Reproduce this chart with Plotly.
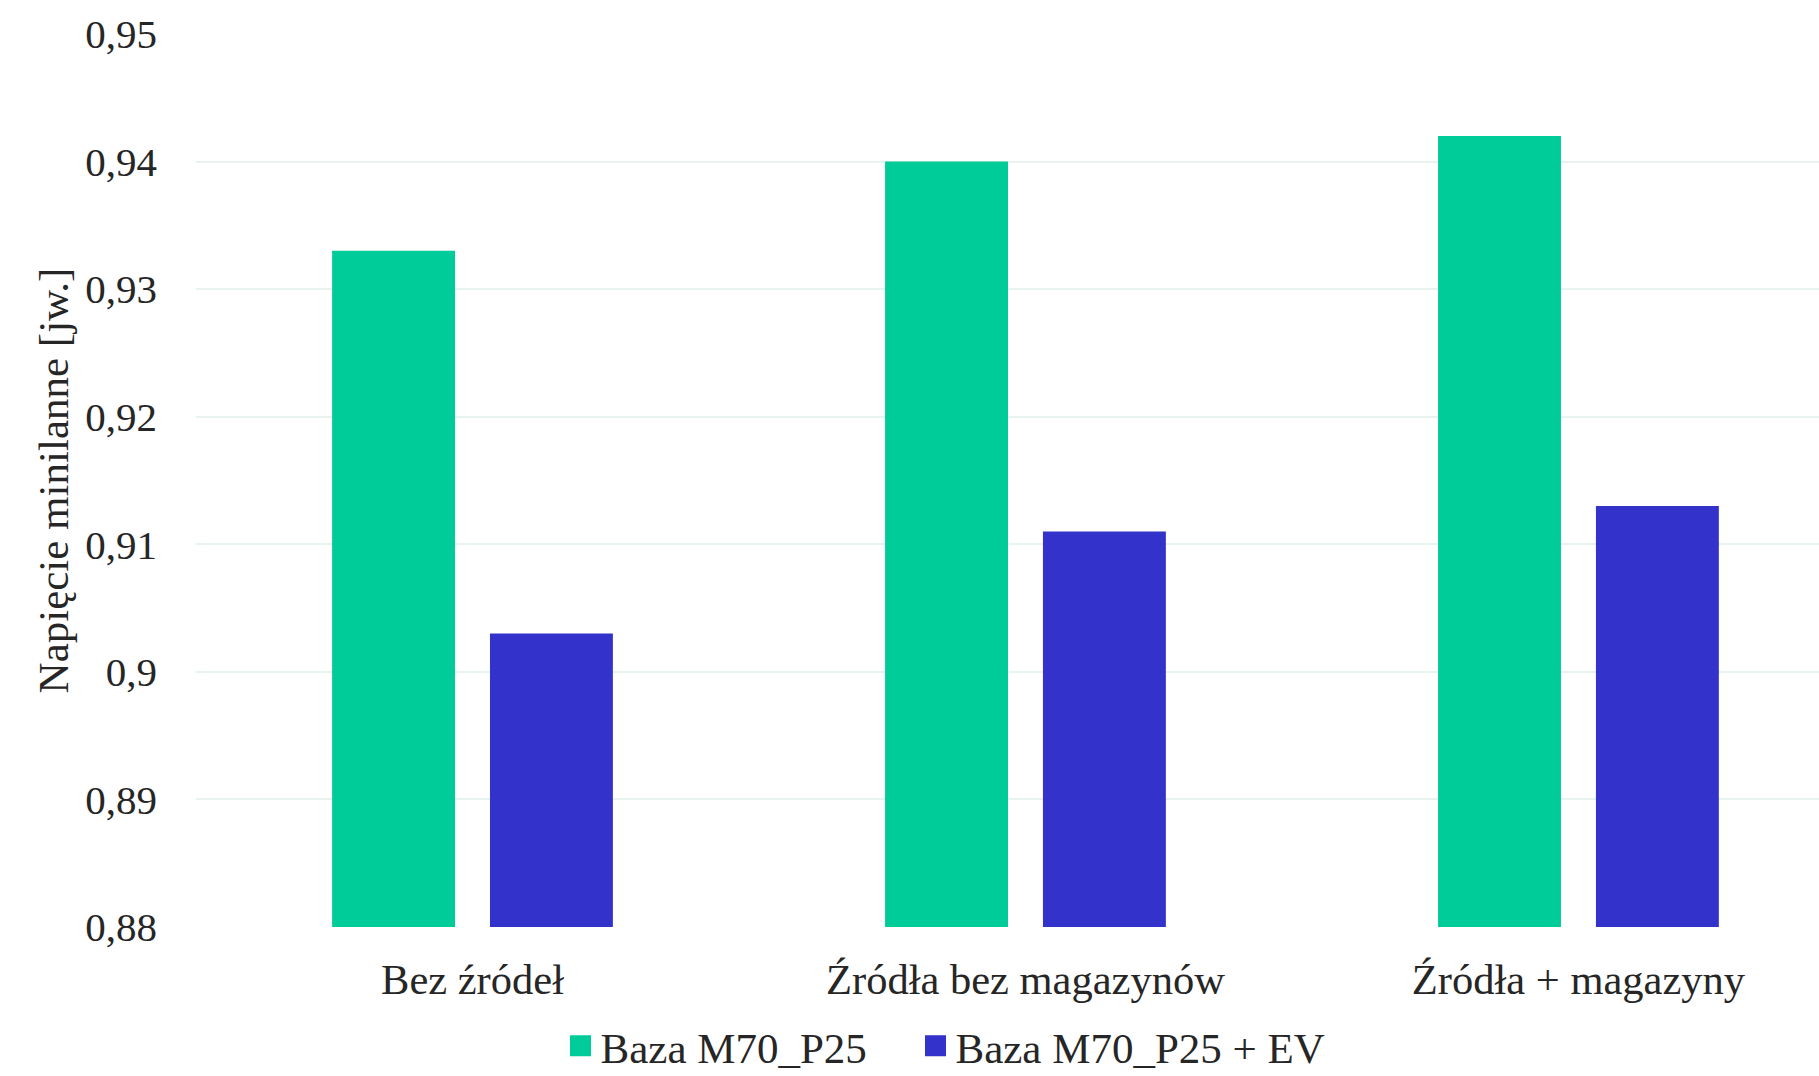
import plotly.graph_objects as go

# Minimum voltage per scenario (per-unit)
categories = ["Bez źródeł", "Źródła bez magazynów", "Źródła + magazyny"]
series_names = ["Baza M70_P25", "Baza M70_P25 + EV"]
base_values = [0.933, 0.940, 0.942]
ev_values = [0.903, 0.911, 0.913]
y_floor = 0.88
y_ticks = [0.88, 0.89, 0.90, 0.91, 0.92, 0.93, 0.94, 0.95]
y_tick_labels = ["0,88", "0,89", "0,9", "0,91", "0,92", "0,93", "0,94", "0,95"]

colors = ["#00CC99", "#3333CC"]
font_family = "Liberation Serif"
text_color = "#262626"

W, H = 1819, 1076
left, right, top, bottom = 196, 0, 34, 149

fig = go.Figure()
for name, vals, col in zip(series_names, [base_values, ev_values], colors):
    fig.add_trace(go.Bar(
        x=categories, y=[v - y_floor for v in vals], base=y_floor,
        marker=dict(color=col, line=dict(width=0)),
        showlegend=False, name=name,
        hovertemplate="%{x}<br>" + name + ": %{customdata:.3f}<extra></extra>",
        customdata=vals,
    ))

# Legend entries (one legend box per series so each can be placed freely)
legend_ids = ["legend", "legend2"]
for name, col, lid in zip(series_names, colors, legend_ids):
    fig.add_trace(go.Scatter(
        x=[None], y=[None], mode="markers", name=name, legend=lid,
        marker=dict(symbol="square", size=16, color=col,
                    line=dict(color=col, width=5)),
    ))

legend_style = dict(
    orientation="h", xanchor="left", yanchor="middle", y=-0.133,
    font=dict(size=43, family=font_family, color=text_color),
    itemsizing="trace", bgcolor="rgba(0,0,0,0)",
)

fig.update_layout(
    width=W, height=H,
    margin=dict(l=left, r=right, t=top, b=bottom, autoexpand=False),
    paper_bgcolor="white", plot_bgcolor="white",
    font=dict(family=font_family, color=text_color, size=40),
    barmode="group", bargap=0.429, bargroupgap=0.2215,
    legend=dict(x=0.2246, **legend_style),
    legend2=dict(x=0.4433, **legend_style),
    xaxis=dict(
        range=[-0.5, 2.435], showgrid=False, zeroline=False,
        showline=False, ticks="", tickfont=dict(size=42.5),
        ticklabelstandoff=23,
    ),
    yaxis=dict(
        range=[0.88, 0.95], tickvals=y_ticks, ticktext=y_tick_labels,
        showgrid=True, gridcolor="#E8F3EF", gridwidth=2,
        zeroline=False, showline=False, ticks="",
        tickfont=dict(size=41), ticklabelstandoff=38,
        title=dict(text="Napięcie minilanne [jw.]", font=dict(size=43), standoff=3),
        automargin=False,
    ),
)

fig.write_html("out.html")
